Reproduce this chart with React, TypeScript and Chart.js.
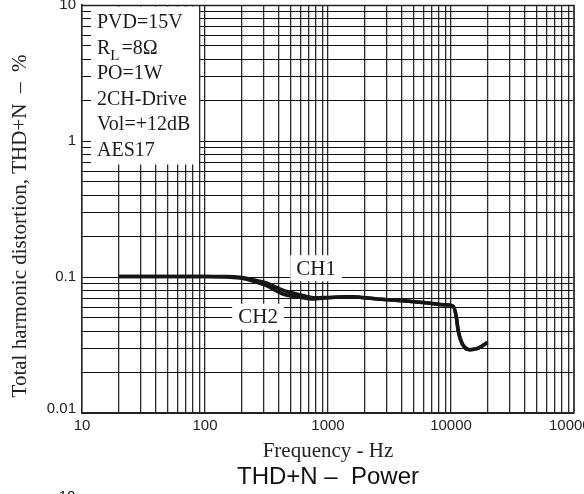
import React, { useEffect, useRef } from 'react';
import { Chart, registerables } from 'chart.js';

Chart.register(...registerables);

// ---- Data ----
const ch1Freq = [20, 50, 100, 150, 200, 250, 320, 430, 590, 760, 1000, 1500, 2500, 4000, 6000, 9000, 10400, 11000, 11450, 12300, 14200, 16700, 19800];
const ch1Thd = [0.101, 0.101, 0.101, 0.101, 0.099, 0.095, 0.09, 0.08, 0.074, 0.0705, 0.0708, 0.0715, 0.069, 0.067, 0.065, 0.0625, 0.061, 0.052, 0.0402, 0.0325, 0.0292, 0.03, 0.033];
const ch2Freq = [20, 50, 100, 150, 200, 250, 320, 430, 590, 760, 1000, 1500, 2500, 4000, 6000, 9000, 10400, 11000, 11450, 12300, 14200, 16700, 19800];
const ch2Thd = [0.101, 0.101, 0.101, 0.1, 0.098, 0.093, 0.086, 0.075, 0.071, 0.069, 0.0705, 0.0715, 0.069, 0.067, 0.065, 0.0625, 0.061, 0.052, 0.0402, 0.0325, 0.0292, 0.03, 0.033];

const xTickValues = [10, 100, 1000, 10000, 100000];
const xTickLabels = ['10', '100', '1000', '10000', '100000'];
const yTickValues = [0.01, 0.1, 1, 10];
const yTickLabels = ['0.01', '0.1', '1', '10'];

const conditionLines = ['PVD=15V', 'R_L=8Ω', 'PO=1W', '2CH-Drive', 'Vol=+12dB', 'AES17'];
const channelLabels = [
  { text: 'CH1', freq: 800, thd: 0.116 },
  { text: 'CH2', freq: 270, thd: 0.051 },
];

const xTitle = 'Frequency - Hz';
const yTitle = 'Total harmonic distortion, THD+N  \u2013  %';
const chartTitle = 'THD+N \u2013  Power';
const nextChartStub = '10';

const SERIF = '"Liberation Serif", "Times New Roman", serif';
const SANS = '"Liberation Sans", Arial, sans-serif';

function logGridTicks(min: number, max: number) {
  const out: { value: number }[] = [];
  for (let d = Math.round(Math.log10(min)); d < Math.round(Math.log10(max)); d++) {
    for (let m = 1; m <= 9; m++) out.push({ value: m * Math.pow(10, d) });
  }
  out.push({ value: max });
  return out;
}

const decorPlugin = {
  id: 'decor',
  beforeDatasetsDraw(chart: any) {
    const ctx = chart.ctx;
    const area = chart.chartArea;
    const xs = chart.scales.x;
    const ys = chart.scales.y;
    ctx.save();
    // conditions box
    ctx.fillStyle = '#ffffff';
    ctx.fillRect(area.left + 9, area.top + 1.5, 108, 158);
    ctx.fillStyle = '#1a1a1a';
    ctx.textBaseline = 'alphabetic';
    ctx.textAlign = 'left';
    const x0 = area.left + 15;
    conditionLines.forEach((line, i) => {
      const y = area.top + 23 + i * 25.6;
      ctx.font = '20px ' + SERIF;
      const idx = line.indexOf('_');
      if (idx >= 0) {
        const base = line.slice(0, idx);
        const sub = line.charAt(idx + 1);
        const rest = line.slice(idx + 2);
        ctx.fillText(base, x0, y);
        let cx = x0 + ctx.measureText(base).width;
        ctx.font = '15px ' + SERIF;
        ctx.fillText(sub, cx, y + 6);
        cx += ctx.measureText(sub).width + 2;
        ctx.font = '20px ' + SERIF;
        ctx.fillText(rest, cx, y);
      } else {
        ctx.fillText(line, x0, y);
      }
    });
    // channel labels
    ctx.font = '21px ' + SERIF;
    ctx.textAlign = 'center';
    ctx.textBaseline = 'middle';
    channelLabels.forEach((c) => {
      const px = xs.getPixelForValue(c.freq);
      const py = ys.getPixelForValue(c.thd);
      const w = ctx.measureText(c.text).width;
      ctx.fillStyle = '#ffffff';
      ctx.fillRect(px - w / 2 - 6, py - 13, w + 12, 26);
      ctx.fillStyle = '#1a1a1a';
      ctx.fillText(c.text, px, py + 1);
    });
    ctx.restore();
  },
  afterDraw(chart: any) {
    const ctx = chart.ctx;
    const area = chart.chartArea;
    const xs = chart.scales.x;
    const ys = chart.scales.y;
    ctx.save();
    // frame
    ctx.strokeStyle = '#444';
    ctx.lineWidth = 2;
    ctx.beginPath();
    ctx.moveTo(area.right, area.top);
    ctx.lineTo(area.right, area.bottom);
    ctx.stroke();
    ctx.strokeStyle = '#222';
    ctx.lineWidth = 1.5;
    ctx.beginPath();
    ctx.moveTo(area.left, area.top + 0.5);
    ctx.lineTo(area.right, area.top + 0.5);
    ctx.stroke();

    // tick labels
    ctx.fillStyle = '#222';
    ctx.font = '15px ' + SANS;
    ctx.textAlign = 'center';
    ctx.textBaseline = 'middle';
    xTickValues.forEach((v, i) => {
      ctx.fillText(xTickLabels[i], xs.getPixelForValue(v), area.bottom + 13);
    });
    ctx.textAlign = 'right';
    yTickValues.forEach((v, i) => {
      let py = ys.getPixelForValue(v);
      if (i === 0) py -= 4;
      ctx.fillText(yTickLabels[i], area.left - 6, py);
    });

    // axis titles
    ctx.fillStyle = '#222';
    ctx.font = '21px ' + SERIF;
    ctx.textAlign = 'center';
    ctx.textBaseline = 'middle';
    ctx.fillText(xTitle, (area.left + area.right) / 2, 451);
    ctx.save();
    ctx.translate(20, 226);
    ctx.rotate(-Math.PI / 2);
    ctx.fillText(yTitle, 0, 0);
    ctx.restore();

    // chart title
    ctx.fillStyle = '#111';
    ctx.font = '24px ' + SANS;
    ctx.fillText(chartTitle, (area.left + area.right) / 2, 477);

    // stub of the next chart
    ctx.font = '15px ' + SANS;
    ctx.textBaseline = 'alphabetic';
    ctx.fillText(nextChartStub, 67, 501);
    ctx.restore();
  },
};

export default function App() {
  const ref = useRef<HTMLCanvasElement | null>(null);
  useEffect(() => {
    document.body.style.margin = '0';
    const canvas = ref.current;
    if (!canvas) return;
    const mk = (f: number[], v: number[]) => f.map((x, i) => ({ x, y: v[i] }));
    const chart = new Chart(canvas, {
      type: 'scatter',
      data: {
        datasets: [
          {
            label: 'CH1',
            data: mk(ch1Freq, ch1Thd),
            showLine: true,
            borderColor: '#151515',
            borderWidth: 3.5,
            pointRadius: 0,
            cubicInterpolationMode: 'monotone',
            fill: false,
          },
          {
            label: 'CH2',
            data: mk(ch2Freq, ch2Thd),
            showLine: true,
            borderColor: '#151515',
            borderWidth: 3.5,
            pointRadius: 0,
            cubicInterpolationMode: 'monotone',
            fill: false,
          },
        ],
      },
      options: {
        animation: false,
        responsive: false,
        maintainAspectRatio: false,
        layout: { padding: { left: 82, right: 10, top: 5, bottom: 81 } },
        plugins: { legend: { display: false }, tooltip: { enabled: false } },
        scales: {
          x: {
            type: 'logarithmic',
            min: 10,
            max: 100000,
            afterBuildTicks: (s: any) => { s.ticks = logGridTicks(10, 100000); },
            ticks: { display: false },
            grid: { color: '#2a2a2a', lineWidth: 1.3, drawTicks: false },
            border: { display: true, color: '#222', width: 2 },
          },
          y: {
            type: 'logarithmic',
            min: 0.01,
            max: 10,
            afterBuildTicks: (s: any) => { s.ticks = logGridTicks(0.01, 10); },
            ticks: { display: false },
            grid: { color: '#111', lineWidth: 1, drawTicks: false },
            border: { display: true, color: '#222', width: 1.5 },
          },
        },
      } as any,
      plugins: [decorPlugin],
    });
    return () => chart.destroy();
  }, []);
  return (
    <canvas ref={ref} width={584} height={494} style={{ display: 'block', width: 584, height: 494 }} />
  );
}
